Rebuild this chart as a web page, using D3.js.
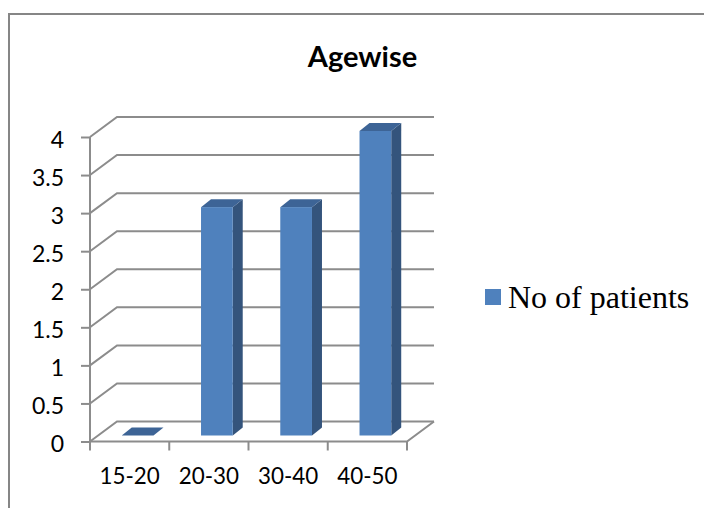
<!DOCTYPE html>
<html>
<head>
<meta charset="utf-8">
<script src="https://cdn.jsdelivr.net/npm/d3@7"></script>
<style>
  html, body { margin: 0; padding: 0; background: #fff; overflow: hidden; }
  svg { display: block; }
  text { font-family: Lato, "Open Sans", sans-serif; fill: #000; }
</style>
</head>
<body>
<svg width="704" height="508"></svg>
<script>
// chart values
var categories = ["15-20", "20-30", "30-40", "40-50"];
var patients = [0, 3, 3, 4];
var yTicks = [0, 0.5, 1, 1.5, 2, 2.5, 3, 3.5, 4];
var seriesName = "No of patients";
var chartTitle = "Agewise";

var svg = d3.select("svg");

// plot area of the front plane
var margin = { top: 137, right: 297, bottom: 66.5, left: 90 },
    width = +svg.attr("width") - margin.left - margin.right,
    height = +svg.attr("height") - margin.top - margin.bottom;

// fake 3d: how far the back wall sits from the front plane
var wallDx = 27, wallDy = -20;
// how far the bars sit in from the front plane, and their own depth
var barDx = 8, barDy = -6, depthDx = 10, depthDy = -8;

var x = d3.scaleBand().domain(categories).range([0, width]).paddingInner(0).paddingOuter(0);
var y = d3.scaleLinear().domain([0, 4]).range([height, 0]);

var barWidth = x.bandwidth() * 0.4;
var gridColor = "#8c8c8c";

// chart frame: only top and left edges are inside the picture
svg.append("path")
  .attr("d", "M9,508V14H704")
  .attr("fill", "none")
  .attr("stroke", "#868686")
  .attr("stroke-width", 2);

svg.append("text")
  .attr("x", 362.5).attr("y", 67)
  .attr("text-anchor", "middle")
  .style("font-size", "29px")
  .style("font-weight", "700")
  .text(chartTitle);

var g = svg.append("g").attr("transform", "translate(" + margin.left + "," + margin.top + ")");

// gridlines: side wall diagonal + back wall line
var grid = g.append("g").attr("fill", "none").attr("stroke", gridColor).attr("stroke-width", 2);
grid.selectAll("path").data(yTicks).enter().append("path")
  .attr("d", function (d) {
    return "M0," + y(d) + "L" + wallDx + "," + (y(d) + wallDy) + "H" + (width + wallDx);
  });

// floor
grid.append("path")
  .attr("d", "M0," + height + "H" + width + "L" + (width + wallDx) + "," + (height + wallDy));

// axes
var axisY = g.append("g").call(d3.axisLeft(y).tickValues(yTicks).tickSize(9).tickPadding(17).tickFormat(d3.format("")));
var axisX = g.append("g").attr("transform", "translate(0," + height + ")")
  .call(d3.axisBottom(x).tickSize(0).tickPadding(26.5));

axisY.selectAll("text").style("font-size", "23px").attr("dy", ".435em");
axisX.selectAll("text").style("font-size", "22.4px").attr("dy", ".71em");
axisY.selectAll("line").attr("stroke", gridColor).attr("stroke-width", 2);
axisY.select(".domain").attr("d", "M0,0V" + height).attr("stroke", gridColor).attr("stroke-width", 2);
axisX.select(".domain").remove();

// x ticks sit on band edges, not centres
g.append("g").selectAll("line")
  .data(categories.concat(["end"])).enter().append("line")
  .attr("x1", function (d, i) { return i * x.step(); })
  .attr("x2", function (d, i) { return i * x.step(); })
  .attr("y1", height).attr("y2", height + 9)
  .attr("stroke", gridColor).attr("stroke-width", 2);

// bars
var bars = g.selectAll(".bar").data(patients).enter().append("g").attr("class", "bar")
  .attr("transform", function (d, i) {
    return "translate(" + (x(categories[i]) + (x.bandwidth() - barWidth) / 2 + barDx) + "," + (y(d) + barDy) + ")";
  });

// side face
bars.append("path").attr("fill", "#34547c")
  .attr("d", function (d) {
    var h = height - y(d);
    return "M" + barWidth + ",0L" + (barWidth + depthDx) + "," + depthDy + "V" + (h + depthDy) + "L" + barWidth + "," + h + "Z";
  });
// top face
bars.append("path").attr("fill", "#3d6496")
  .attr("d", "M0,0L" + depthDx + "," + depthDy + "H" + (barWidth + depthDx) + "L" + barWidth + ",0Z");
// front face
bars.append("rect").attr("fill", "#4f81bd")
  .attr("width", barWidth)
  .attr("height", function (d) { return height - y(d); });

// legend
svg.append("rect").attr("x", 485).attr("y", 289).attr("width", 16).attr("height", 16).attr("fill", "#4f81bd");
svg.append("text")
  .attr("x", 508).attr("y", 308)
  .style("font-family", "'Liberation Serif', serif")
  .style("font-size", "32px")
  .text(seriesName);
</script>
</body>
</html>
